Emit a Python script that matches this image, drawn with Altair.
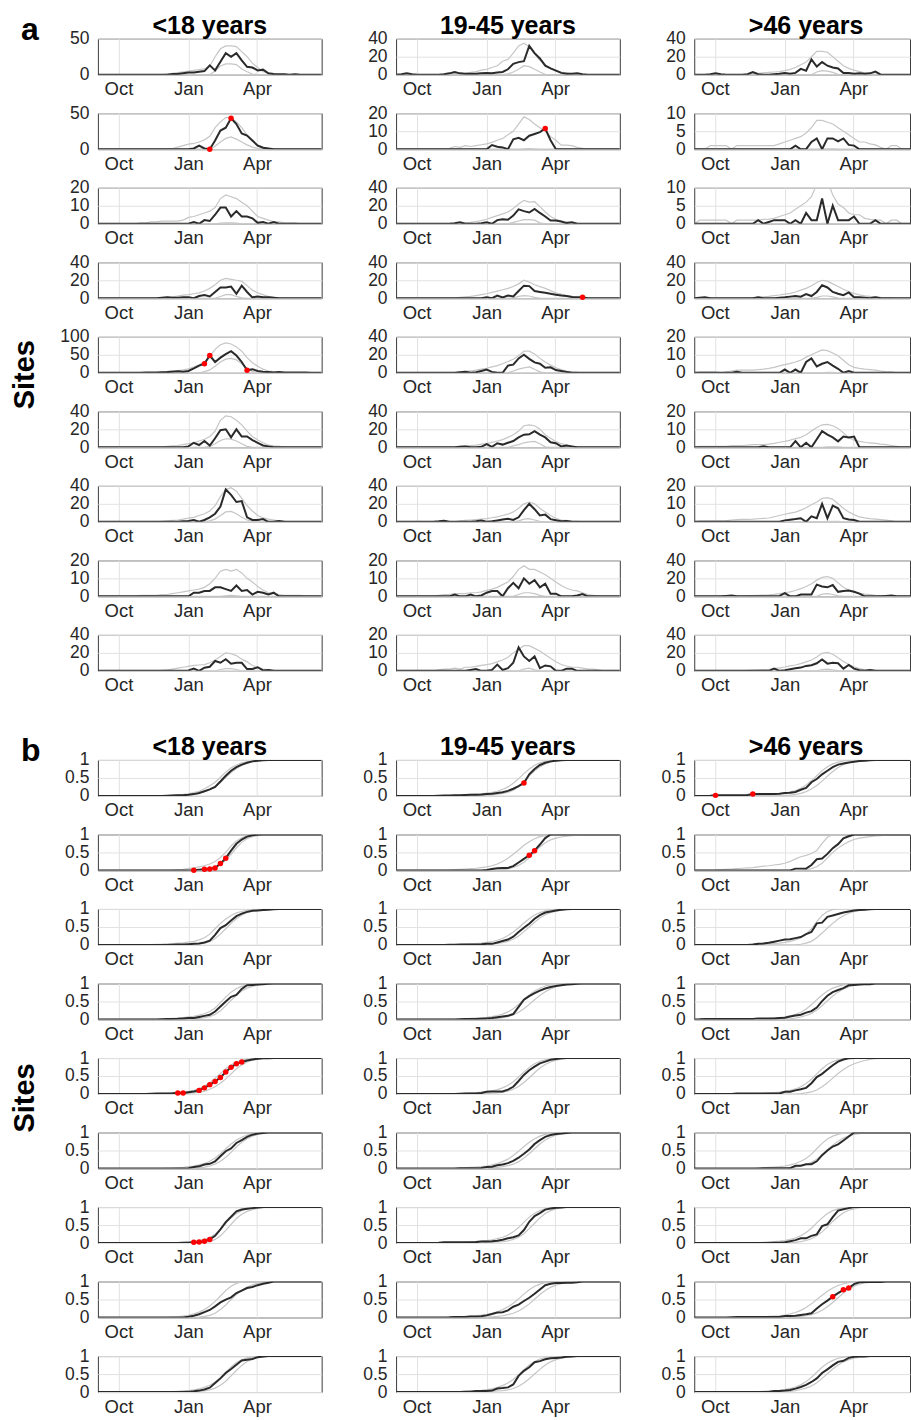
import altair as alt
import pandas as pd

# ---------------------------------------------------------------- time axis
N_WEEKS = 43            # weekly points, week 0 = 4 Sep
FIRST_DAY = -27         # day of week 0 relative to 1 Oct
X_TICKS = [0, 92, 182]  # 1 Oct, 1 Jan, 1 Apr (days after 1 Oct)
X_LABELS = "datum.value == 0 ? 'Oct' : (datum.value == 92 ? 'Jan' : 'Apr')"

COLUMN_TITLES = ["<18 years", "19-45 years", ">46 years"]

# ---------------------------------------------------------------- panel a: weekly counts
# each entry: (first week index, weekly values); outside the window the value is 0
A_LT18_OBS = [
    (14, [1, 1, 2, 3, 3, 4, 5, 13, 6, 18, 30, 25, 30, 20, 11, 10, 6, 7, 2, 1, 0.5, 0.5, 0, 0.5]),
    (17, [0, 1, 5, 1, 0, 12, 26, 30, 43, 35, 22, 19, 12, 5, 2, 1]),
    (17, [0, 1, 0, 2, 1.5, 5, 9, 9, 4, 7, 4, 4, 3, 0.5, 1, 0, 1]),
    (12, [0.5, 1, 0.5, 0.5, 1, 1, 0, 2.5, 3.5, 2, 7, 12, 12, 13, 5, 14, 7, 1, 2, 1, 1, 0.5]),
    (9, [1, 1, 1, 1.5, 2, 3, 4, 3, 5, 12, 20, 25, 48, 30, 42, 52, 60, 48, 30, 7, 10, 5, 3, 2, 1, 2, 1, 1, 0.5, 1, 0.5]),
    (17, [1, 5, 2.5, 7, 2, 10, 19, 20, 11, 20, 12, 12, 8, 5, 2, 1]),
    (16, [0.5, 1, 2, 0, 2, 5, 9, 17, 36, 30, 22, 23, 5, 2, 2, 3, 0, 0, 1]),
    (17, [0, 2, 2, 3, 3, 5, 5, 4, 3, 6, 3, 3.5, 1, 2.5, 2, 1, 2]),
    (17, [0.5, 2.5, 0, 3.5, 4.5, 11, 9, 13, 8, 9, 9, 2, 2, 4, 0.5, 1]),
]
A_LT18_HI = [
    (13, [1, 2, 3, 4, 5, 6, 7, 8, 12, 25, 36, 40, 40, 39, 32, 25, 16, 10, 4, 2, 1]),
    (14, [1, 3, 5, 7, 8, 10, 13, 18, 30, 38, 44, 44, 38, 30, 20, 11, 6, 3, 1]),
    (8, [0.5, 0.5, 1, 1, 1.5, 1.5, 1.5, 1.5, 2, 3.5, 4, 5, 6, 7, 9, 14, 16, 15, 14, 12, 10, 7, 4, 3, 2, 1, 1, 0.5, 0.5, 0.5]),
    (12, [0.5, 1, 1.5, 2.5, 3.5, 4, 5, 6, 8, 11, 15, 20, 22, 21, 20, 19, 14, 9, 6, 4, 2, 1, 0.5]),
    (12, [2, 3, 5, 6, 8, 11, 16, 22, 30, 45, 65, 78, 83, 80, 72, 60, 42, 28, 18, 10, 5, 3, 2, 1]),
    (13, [1, 1.5, 2, 3, 4, 5, 7, 9, 12, 18, 30, 35, 34, 30, 25, 18, 12, 8, 5, 2.5, 1.5, 1, 0.5]),
    (12, [0.5, 1, 1.5, 2, 3, 4, 5, 7, 9, 12, 18, 28, 36, 38, 34, 26, 18, 12, 7, 4.5, 3, 2, 1, 0.5]),
    (8, [0.5, 0.5, 0.5, 0.5, 1, 1, 1.5, 2, 2.5, 3, 3.5, 4, 5, 7, 10, 14, 15, 14, 15, 13, 10, 8, 5.5, 3.5, 2, 1.5, 1, 0.5, 0.5, 0.5, 0.5]),
    (12, [0.5, 1, 2, 3, 4, 5, 6, 6.5, 7, 9, 12, 16, 20, 19, 17, 13, 10, 6, 4, 2, 1, 0.5]),
]
A_LT18_LO = [
    (21, [0, 5, 12, 15, 15, 14, 8, 4, 1, 0]),
    (21, [0, 4, 10, 15, 17, 14, 10, 6, 3, 1, 0]),
    (22, [0, 0.3, 0.5, 0.5, 0.3, 0]),
    (22, [0, 2, 4, 4, 2, 0.5, 0]),
    (19, [0, 3, 8, 18, 30, 38, 40, 36, 25, 12, 4, 0]),
    (20, [0, 1, 4, 7.5, 9.5, 9, 7, 4, 1, 0]),
    (20, [0, 1, 3, 7, 11, 11.5, 9, 5, 2, 0.5, 0]),
    (23, [0, 0.3, 0.5, 0.3, 0]),
    (22, [0, 1.5, 2.5, 2.5, 1.5, 0]),
]
A_LT18_RED = [[], [21, 25], [], [], [20, 21, 28], [], [], [], []]
A_LT18_YMAX = [50, 50, 20, 40, 100, 40, 40, 20, 40]

A_1945_OBS = [
    (0, [0, 0.5, 1.5, 0.5, 0, 0, 0, 0, 0, 0.5, 1.5, 3, 1.5, 1, 1, 1, 1.5, 2, 1.5, 2.5, 3, 6, 12, 14, 15, 32, 24, 18, 10, 7, 4.5, 2, 1, 1, 1.5, 0.5]),
    (17, [0, 2.3, 1.4, 1, 0, 5.5, 6.3, 5, 7.5, 8.5, 9.5, 11.5, 5, 0]),
    (11, [0.5, 1.5, 0, 0, 0, 0.5, 1.5, 0, 4, 5, 4.5, 9, 16, 14, 12.5, 16.5, 12, 8, 3.5, 3.5, 2.5, 0.7, 1.5, 0]),
    (16, [0, 1, 0, 3, 1, 3, 2, 8, 14, 13.5, 8, 7, 6, 5, 4, 3, 2.5, 1.5, 1, 1, 0]),
    (12, [0.5, 1, 0, 0.5, 2, 3.5, 1, 0, 0, 8, 9, 16, 20, 15.5, 11.5, 10, 5.5, 6, 3, 2, 1, 0]),
    (12, [0.5, 1, 0, 0, 0.5, 3.5, 0.5, 4.5, 3, 5, 7, 11, 14, 14.5, 18, 14, 11, 5.5, 4.5, 1, 2, 1, 0]),
    (8, [0.5, 1.2, 0, 0, 0, 0, 0, 0.5, 1.5, 0, 0.5, 1.5, 2.5, 3.5, 2, 5, 13, 20, 14, 7, 8, 3, 1.8, 0.7, 1, 0]),
    (9, [0, 0, 1, 0, 0, 1, 0, 0.5, 2, 3, 3, 0, 4.5, 7.5, 4.5, 10, 7, 9, 5, 7, 1.5, 1.5, 0, 0, 0, 0.5, 1.3, 0]),
    (14, [0.5, 1, 0, 0, 0.5, 3.5, 0.5, 1.5, 4.5, 13, 8, 5.5, 8, 1.5, 3, 2.5, 0, 0, 1.2, 1.2, 0]),
]
A_1945_HI = [
    (9, [0.5, 1, 1, 1, 1.5, 2.5, 3.5, 5, 6, 8, 10, 15, 17, 24, 32, 35, 31, 23, 16, 11, 7, 5, 3, 2, 1, 0.5]),
    (10, [0.5, 1.5, 1, 2, 1.5, 2, 2.5, 3, 3.8, 5, 6, 8, 10, 14, 18, 16.5, 14, 12, 10, 7, 5, 2.3, 2.3, 2, 1, 0.5]),
    (13, [1, 1.5, 2.5, 3.5, 5, 7, 9, 11, 13, 17, 22, 26, 24, 24.5, 19, 13, 8, 5, 3, 2, 1, 0.5]),
    (12, [1, 1.5, 2, 3, 4, 5, 6.5, 8, 9.5, 11, 13, 16, 20, 18, 15, 13, 11, 8.5, 6, 4.5, 3, 2, 1, 0.5]),
    (12, [1, 1.5, 2, 3, 4, 5, 6.5, 8, 10, 12.5, 15, 19, 24, 24, 21, 16, 12, 8.5, 5.5, 3.5, 2, 1, 0.5]),
    (12, [1, 1.5, 2, 2.5, 3.5, 4, 5.5, 7, 8.5, 11, 14, 18, 24, 25, 24, 20, 14, 10, 6.5, 4, 2.5, 1, 0.5]),
    (12, [1, 1.5, 2, 2.5, 3, 3.5, 4.5, 5.5, 7, 8.5, 11, 15, 20, 22, 20, 15, 11, 7, 4, 2, 1.5, 0.7, 0.5]),
    (8, [0.5, 1, 1, 1.5, 1.5, 1.5, 2, 2, 2.5, 3.3, 4, 5, 6.5, 8, 11, 15, 17, 15, 15, 13.5, 12, 10, 8, 6, 4.5, 3.5, 3, 2, 1, 0.5]),
    (8, [0.5, 1, 1, 1.5, 1, 2, 2, 2.5, 3, 3.5, 4, 5, 6, 7.5, 10, 12, 14, 14, 12.5, 11, 9, 7, 5, 3.5, 2.7, 2, 2, 1.5, 1, 1, 0.5]),
]
A_1945_LO = [
    (20, [0, 1, 3, 6, 10, 9, 6, 3, 0.5, 0]),
    (23, [0, 0.2, 0.3, 0.2, 0]),
    (21, [0, 1.5, 3, 4.5, 4.5, 4, 1, 0]),
    (21, [0, 0.5, 2, 3, 2.5, 1, 0]),
    (21, [0, 2, 4, 5.5, 6.5, 4, 1, 0]),
    (21, [0, 1.5, 3, 5, 6, 6.5, 4, 0.5, 0]),
    (22, [0, 1, 3, 3.5, 2, 0.5, 0]),
    (22, [0, 1, 2, 2, 1.5, 0.5, 0]),
    (23, [0, 1, 1.5, 0.5, 0]),
]
A_1945_RED = [[], [28], [], [35], [], [], [], [], []]
A_1945_YMAX = [40, 20, 40, 40, 40, 40, 40, 20, 20]

A_GT46_OBS = [
    (2, [0, 0.5, 1.5, 0.5, 0, 0, 0, 0, 0.5, 3, 0.5, 0, 0, 0.5, 1, 2, 1, 2, 6.5, 4.5, 17, 9, 14, 10, 8, 7, 2, 2, 1, 1.5, 1, 1.5, 3.5, 0]),
    (17, [0, 0, 1, 0, 0, 2, 3, 0, 3, 3, 2.2, 3, 1.2, 1, 0]),
    (11, [0, 1, 0, 0.5, 1, 1, 1, 0, 1, 0, 3, 1, 1, 7, 0, 5, 1, 1, 1, 2, 0, 0, 0, 1, 0]),
    (0, [0, 0.5, 1, 0, 0, 0, 0, 0, 0, 0, 0, 0, 1, 0, 0, 0, 0.5, 1, 1.8, 2.5, 1.8, 4.7, 2.5, 7, 14.5, 12, 7, 5, 3.5, 6.5, 1, 1, 0.7, 0, 1, 0]),
    (8, [0.5, 0, 0, 0, 0, 0, 0, 0, 0, 1.8, 0, 1.8, 0, 6, 8, 3.5, 5, 6, 4, 2.2, 0, 1, 0]),
    (12, [0, 0.5, 0, 0, 0, 0, 0, 3.5, 0, 2.5, 0, 4.5, 9, 7, 5.5, 3.3, 6, 5.5, 6, 0]),
    (16, [0, 0.8, 1.2, 1.5, 2, 0, 3, 2, 10, 2, 9, 7.5, 2, 1.3, 1, 0]),
    (5, [0, 0.5, 1, 0, 0, 0, 0, 0, 0, 0, 0, 0.5, 3.5, 0, 0, 2, 2, 2, 13, 11, 10, 12.5, 5, 6, 6.5, 5, 3, 0, 0, 0, 0, 0.5, 1, 0]),
    (14, [0, 2.5, 0, 0.7, 1.8, 2.9, 3.6, 5.5, 6.2, 8.4, 12.7, 8, 9, 8.4, 2.5, 6.5, 2.5, 0.7, 0, 1, 0]),
]
A_GT46_HI = [
    (10, [0.5, 1, 1.5, 2, 2.5, 3, 3.5, 4.5, 6, 8, 11, 14, 20, 26, 26, 25, 20, 15, 10, 7, 5, 3.5, 2, 1, 0.5]),
    (2, [0, 1, 1, 1, 1, 0, 1, 1, 1, 1, 1, 1, 1, 1, 1.5, 2, 2.5, 3, 3.5, 4.5, 6, 8, 8, 7.5, 7, 6, 5, 4, 3, 2, 2, 1.5, 1.2, 0.5, 0, 1, 1, 0]),
    (0, [0, 1, 1, 1, 1, 1, 1, 0, 1, 1, 1, 1, 1, 1.2, 1.3, 1.5, 2, 2.5, 3, 4, 5, 6, 7.5, 11, 12, 12, 8, 5.5, 4.5, 3, 2.5, 2.5, 1.5, 1.2, 1, 1, 0, 1, 1, 0]),
    (11, [0.5, 1, 1.5, 2, 3, 3.6, 4.5, 5.5, 7, 9, 11, 14, 17.5, 20, 19, 16, 13, 10, 7.5, 5.5, 3.8, 2.7, 2, 1.5, 1, 0.7, 0.5]),
    (0, [0, 0.5, 0.5, 0.5, 0.5, 0, 0.5, 1, 1.5, 1.5, 1.5, 1.5, 1.8, 2, 2.4, 3, 3.8, 4.5, 5.2, 6, 7, 8.7, 10, 11.4, 12.7, 12.3, 11, 9.5, 7, 4.5, 3, 2.4, 2, 1.8, 1.5, 1, 0.5, 0.5]),
    (0, [0, 0.5, 0.5, 0.5, 0.5, 0.5, 0.5, 1, 1, 1, 1.2, 1.5, 1.5, 1.5, 1.8, 2.2, 2.8, 3.3, 4, 4.8, 5.5, 7, 9, 11, 12.5, 12.7, 12, 10.5, 8, 5.5, 4, 3.3, 2.8, 2.4, 2.2, 1.8, 1.5, 1, 0.5]),
    (0, [0, 0.5, 0.5, 0.5, 0.5, 0.5, 0.7, 1, 1.2, 1.3, 1.4, 1.5, 1.7, 1.9, 2.1, 2.8, 3.5, 4.2, 4.8, 5.4, 6.5, 7.8, 9.5, 11, 13, 13.4, 12.5, 10, 7.5, 5.5, 4, 2.7, 2.2, 1.8, 1.5, 1.2, 0.9, 0.5]),
    (10, [0.5, 0.8, 1, 1.3, 1.6, 2.2, 3, 4, 5, 6.5, 8.5, 11, 14, 18, 21, 22, 20, 15, 10, 7, 5, 3.5, 2.5, 1.8, 1.2, 0.8, 0.5]),
    (10, [0.5, 0.8, 1.1, 1.4, 1.8, 2.5, 3.3, 4.3, 5.5, 6.5, 8, 10, 12, 15.5, 19.5, 20.5, 18.5, 14.5, 10.5, 7, 4.5, 2.5, 1.5, 1, 0.5]),
]
A_GT46_LO = [
    (22, [0, 3, 4.5, 4, 2.5, 0.5, 0]),
    (23, [0, 0.1, 0.1, 0.1, 0]),
    (23, [0, 0.1, 0.1, 0]),
    (22, [0, 1, 2.5, 2.5, 1.5, 0.3, 0]),
    (24, [0, 0.3, 0.3, 0]),
    (24, [0, 0.3, 0.3, 0.2, 0]),
    (24, [0, 0.3, 0.3, 0.2, 0]),
    (23, [0, 2.5, 3, 2, 0.5, 0]),
    (23, [0, 1.5, 2, 1, 0.3, 0]),
]
A_GT46_RED = [[], [], [], [], [], [], [], [], []]
A_GT46_YMAX = [40, 10, 10, 40, 20, 20, 20, 40, 40]

# ---------------------------------------------------------------- panel b: cumulative fractions
# each entry: (first week index, values); before the window 0, after it 1
B_LT18_OBS = [
    (13, [0.005, 0.01, 0.015, 0.02, 0.03, 0.05, 0.08, 0.13, 0.18, 0.25, 0.4, 0.56, 0.7, 0.8, 0.87, 0.92, 0.96, 0.98, 0.99, 1]),
    (16, [0, 0, 0.005, 0.02, 0.03, 0.04, 0.07, 0.19, 0.34, 0.55, 0.74, 0.86, 0.94, 0.98, 0.995, 1]),
    (14, [0.005, 0.01, 0.01, 0.02, 0.03, 0.04, 0.07, 0.12, 0.28, 0.47, 0.55, 0.68, 0.8, 0.87, 0.92, 0.95, 0.96, 0.97, 0.98, 0.99, 1]),
    (12, [0.005, 0.01, 0.015, 0.02, 0.03, 0.04, 0.04, 0.07, 0.1, 0.13, 0.22, 0.36, 0.5, 0.63, 0.68, 0.85, 0.95, 0.96, 0.97, 0.98, 0.99, 1]),
    (10, [0.005, 0.01, 0.012, 0.015, 0.02, 0.03, 0.03, 0.05, 0.07, 0.1, 0.17, 0.26, 0.35, 0.46, 0.61, 0.74, 0.84, 0.89, 0.93, 0.96, 0.98, 0.99, 0.995, 1]),
    (16, [0, 0.01, 0.04, 0.06, 0.11, 0.13, 0.2, 0.34, 0.48, 0.56, 0.71, 0.79, 0.88, 0.94, 0.97, 0.99, 1]),
    (15, [0, 0.005, 0.01, 0.02, 0.03, 0.05, 0.1, 0.2, 0.38, 0.58, 0.73, 0.88, 0.93, 0.95, 0.97, 0.99, 1]),
    (16, [0, 0.02, 0.05, 0.09, 0.15, 0.21, 0.31, 0.42, 0.5, 0.56, 0.68, 0.75, 0.82, 0.85, 0.9, 0.94, 0.97, 1]),
    (16, [0, 0.005, 0.02, 0.04, 0.07, 0.12, 0.25, 0.38, 0.53, 0.64, 0.76, 0.88, 0.9, 0.92, 0.97, 0.99, 1]),
]
B_LT18_HI = [
    (13, [0.01, 0.02, 0.03, 0.04, 0.06, 0.09, 0.13, 0.2, 0.28, 0.38, 0.52, 0.66, 0.78, 0.86, 0.92, 0.95, 0.97, 0.99, 1]),
    (14, [0.01, 0.02, 0.03, 0.05, 0.07, 0.1, 0.13, 0.18, 0.25, 0.36, 0.5, 0.68, 0.82, 0.91, 0.96, 0.98, 0.99, 1]),
    (10, [0.01, 0.015, 0.02, 0.03, 0.04, 0.05, 0.06, 0.08, 0.1, 0.14, 0.2, 0.3, 0.45, 0.6, 0.72, 0.82, 0.89, 0.93, 0.96, 0.98, 0.99, 1]),
    (12, [0.01, 0.02, 0.03, 0.04, 0.05, 0.07, 0.09, 0.12, 0.16, 0.22, 0.32, 0.47, 0.62, 0.76, 0.86, 0.92, 0.96, 0.98, 0.99, 1]),
    (10, [0.005, 0.01, 0.015, 0.02, 0.03, 0.04, 0.05, 0.07, 0.1, 0.15, 0.22, 0.32, 0.44, 0.57, 0.7, 0.81, 0.89, 0.94, 0.97, 0.99, 1]),
    (13, [0.005, 0.01, 0.02, 0.03, 0.05, 0.07, 0.1, 0.14, 0.2, 0.29, 0.41, 0.55, 0.68, 0.79, 0.87, 0.93, 0.96, 0.98, 0.99, 1]),
    (14, [0.005, 0.01, 0.02, 0.03, 0.05, 0.07, 0.1, 0.15, 0.24, 0.38, 0.55, 0.7, 0.82, 0.9, 0.95, 0.97, 0.99, 1]),
    (14, [0.01, 0.02, 0.04, 0.06, 0.1, 0.15, 0.22, 0.32, 0.45, 0.6, 0.75, 0.87, 0.95, 0.99, 1]),
    (13, [0.005, 0.01, 0.02, 0.03, 0.04, 0.06, 0.09, 0.13, 0.19, 0.28, 0.4, 0.55, 0.7, 0.82, 0.9, 0.95, 0.98, 0.99, 1]),
]
B_LT18_LO = [
    (15, [0, 0.01, 0.02, 0.04, 0.07, 0.12, 0.18, 0.26, 0.38, 0.52, 0.65, 0.76, 0.85, 0.91, 0.95, 0.98, 0.99, 1]),
    (18, [0, 0.01, 0.02, 0.04, 0.08, 0.15, 0.28, 0.45, 0.63, 0.78, 0.88, 0.94, 0.97, 0.99, 1]),
    (16, [0, 0.01, 0.02, 0.03, 0.05, 0.09, 0.18, 0.3, 0.45, 0.6, 0.73, 0.83, 0.9, 0.94, 0.97, 0.98, 0.99, 1]),
    (16, [0, 0.01, 0.02, 0.03, 0.05, 0.08, 0.14, 0.24, 0.38, 0.53, 0.67, 0.79, 0.87, 0.92, 0.96, 0.98, 0.99, 1]),
    (15, [0, 0.01, 0.02, 0.03, 0.05, 0.08, 0.13, 0.2, 0.3, 0.42, 0.56, 0.7, 0.81, 0.89, 0.94, 0.97, 0.99, 1]),
    (17, [0, 0.01, 0.02, 0.04, 0.07, 0.12, 0.2, 0.31, 0.45, 0.6, 0.73, 0.83, 0.9, 0.95, 0.98, 0.99, 1]),
    (18, [0, 0.01, 0.02, 0.04, 0.1, 0.2, 0.35, 0.52, 0.68, 0.8, 0.88, 0.93, 0.96, 0.98, 1]),
    (18, [0, 0.01, 0.03, 0.06, 0.12, 0.22, 0.35, 0.5, 0.64, 0.76, 0.85, 0.91, 0.95, 0.98, 1]),
    (17, [0, 0.01, 0.02, 0.03, 0.06, 0.11, 0.19, 0.3, 0.45, 0.6, 0.74, 0.85, 0.92, 0.96, 0.98, 1]),
]
B_LT18_RED = [[], [18, 20, 21, 22, 23, 24], [], [], [15, 16, 19, 20, 21, 22, 23, 24, 25, 26, 27], [], [18, 19, 20, 21], [], []]

B_1945_OBS = [
    (8, [0.005, 0.008, 0.01, 0.015, 0.02, 0.025, 0.03, 0.035, 0.04, 0.05, 0.06, 0.08, 0.1, 0.14, 0.2, 0.27, 0.36, 0.6, 0.75, 0.86, 0.92, 0.96, 0.98, 0.99, 1]),
    (16, [0, 0.01, 0.04, 0.06, 0.07, 0.07, 0.12, 0.22, 0.32, 0.42, 0.55, 0.72, 0.9, 1]),
    (10, [0.003, 0.005, 0.015, 0.015, 0.015, 0.015, 0.02, 0.03, 0.03, 0.07, 0.11, 0.15, 0.23, 0.36, 0.48, 0.59, 0.73, 0.83, 0.9, 0.93, 0.96, 0.98, 0.99, 1]),
    (12, [0.005, 0.01, 0.01, 0.01, 0.02, 0.03, 0.04, 0.06, 0.08, 0.1, 0.15, 0.35, 0.55, 0.65, 0.73, 0.8, 0.86, 0.9, 0.93, 0.95, 0.97, 0.98, 0.99, 1]),
    (12, [0.005, 0.01, 0.01, 0.015, 0.03, 0.06, 0.07, 0.07, 0.07, 0.12, 0.2, 0.36, 0.53, 0.66, 0.76, 0.85, 0.9, 0.95, 0.97, 0.99, 1]),
    (12, [0.005, 0.01, 0.01, 0.01, 0.015, 0.045, 0.05, 0.09, 0.11, 0.15, 0.21, 0.3, 0.41, 0.53, 0.68, 0.79, 0.88, 0.93, 0.96, 0.97, 0.99, 1]),
    (8, [0.005, 0.02, 0.02, 0.02, 0.02, 0.02, 0.02, 0.025, 0.04, 0.04, 0.05, 0.065, 0.09, 0.13, 0.16, 0.21, 0.36, 0.59, 0.75, 0.83, 0.93, 0.96, 0.98, 0.99, 1]),
    (10, [0.005, 0.014, 0.015, 0.015, 0.03, 0.03, 0.035, 0.06, 0.1, 0.14, 0.15, 0.2, 0.3, 0.36, 0.46, 0.55, 0.66, 0.78, 0.9, 0.94, 0.96, 0.96, 0.965, 0.97, 0.98, 1]),
    (13, [0.005, 0.01, 0.03, 0.03, 0.03, 0.04, 0.1, 0.11, 0.13, 0.21, 0.45, 0.59, 0.69, 0.83, 0.86, 0.91, 0.94, 0.95, 0.96, 0.98, 0.99, 1]),
]
B_1945_HI = [
    (10, [0.01, 0.015, 0.02, 0.03, 0.04, 0.05, 0.06, 0.08, 0.1, 0.13, 0.18, 0.25, 0.35, 0.48, 0.62, 0.75, 0.85, 0.92, 0.96, 0.98, 0.99, 1]),
    (10, [0.01, 0.02, 0.03, 0.04, 0.05, 0.06, 0.08, 0.1, 0.13, 0.18, 0.25, 0.34, 0.45, 0.57, 0.7, 0.8, 0.88, 0.94, 0.97, 0.99, 1]),
    (12, [0.01, 0.02, 0.03, 0.04, 0.05, 0.07, 0.09, 0.13, 0.18, 0.26, 0.36, 0.48, 0.61, 0.73, 0.83, 0.9, 0.95, 0.98, 0.99, 1]),
    (12, [0.01, 0.02, 0.03, 0.04, 0.05, 0.06, 0.08, 0.11, 0.15, 0.21, 0.3, 0.42, 0.56, 0.68, 0.79, 0.87, 0.93, 0.96, 0.98, 0.99, 1]),
    (12, [0.01, 0.02, 0.03, 0.04, 0.05, 0.07, 0.09, 0.12, 0.17, 0.24, 0.34, 0.47, 0.61, 0.74, 0.84, 0.91, 0.95, 0.98, 0.99, 1]),
    (12, [0.01, 0.02, 0.03, 0.04, 0.05, 0.07, 0.1, 0.14, 0.19, 0.26, 0.36, 0.48, 0.61, 0.73, 0.83, 0.9, 0.95, 0.97, 0.99, 1]),
    (12, [0.01, 0.02, 0.03, 0.04, 0.05, 0.07, 0.09, 0.12, 0.16, 0.22, 0.31, 0.43, 0.58, 0.72, 0.83, 0.9, 0.95, 0.98, 0.99, 1]),
    (10, [0.01, 0.015, 0.02, 0.03, 0.04, 0.05, 0.07, 0.09, 0.12, 0.16, 0.22, 0.3, 0.4, 0.52, 0.65, 0.77, 0.87, 0.93, 0.97, 0.99, 1]),
    (12, [0.01, 0.02, 0.03, 0.04, 0.05, 0.07, 0.09, 0.13, 0.18, 0.25, 0.35, 0.48, 0.62, 0.75, 0.85, 0.92, 0.96, 0.98, 0.99, 1]),
]
B_1945_LO = [
    (14, [0.005, 0.01, 0.015, 0.02, 0.03, 0.05, 0.07, 0.1, 0.16, 0.26, 0.4, 0.56, 0.7, 0.81, 0.89, 0.94, 0.97, 0.99, 1]),
    (18, [0, 0.01, 0.02, 0.04, 0.08, 0.14, 0.23, 0.35, 0.5, 0.65, 0.77, 0.85, 0.9, 0.93, 0.95, 0.97, 0.98, 0.99, 1]),
    (16, [0, 0.01, 0.02, 0.04, 0.06, 0.1, 0.16, 0.25, 0.37, 0.5, 0.63, 0.75, 0.84, 0.9, 0.94, 0.97, 0.99, 1]),
    (16, [0, 0.01, 0.02, 0.03, 0.05, 0.08, 0.13, 0.2, 0.3, 0.42, 0.55, 0.67, 0.77, 0.85, 0.91, 0.95, 0.97, 0.99, 1]),
    (16, [0, 0.01, 0.02, 0.03, 0.05, 0.08, 0.13, 0.21, 0.32, 0.45, 0.59, 0.72, 0.82, 0.89, 0.94, 0.97, 0.99, 1]),
    (16, [0, 0.01, 0.02, 0.03, 0.05, 0.08, 0.12, 0.19, 0.29, 0.41, 0.55, 0.68, 0.79, 0.87, 0.93, 0.96, 0.98, 1]),
    (16, [0, 0.01, 0.02, 0.03, 0.04, 0.06, 0.1, 0.16, 0.26, 0.4, 0.55, 0.7, 0.82, 0.9, 0.95, 0.98, 1]),
    (16, [0, 0.01, 0.02, 0.03, 0.05, 0.08, 0.12, 0.18, 0.27, 0.38, 0.51, 0.64, 0.75, 0.84, 0.9, 0.94, 0.97, 0.99, 1]),
    (16, [0, 0.01, 0.02, 0.03, 0.04, 0.06, 0.1, 0.16, 0.25, 0.37, 0.5, 0.63, 0.75, 0.84, 0.9, 0.94, 0.97, 0.99, 1]),
]
B_1945_RED = [[24], [25, 26], [], [], [], [], [], [], []]

B_GT46_OBS = [
    (3, [0.005, 0.015, 0.02, 0.02, 0.02, 0.02, 0.02, 0.025, 0.05, 0.05, 0.05, 0.05, 0.055, 0.06, 0.08, 0.09, 0.11, 0.17, 0.22, 0.38, 0.47, 0.6, 0.7, 0.8, 0.87, 0.9, 0.93, 0.95, 0.97, 0.98, 0.99, 1]),
    (18, [0, 0.05, 0.05, 0.05, 0.15, 0.31, 0.33, 0.46, 0.62, 0.73, 0.89, 0.95, 1]),
    (10, [0, 0.01, 0.03, 0.04, 0.06, 0.09, 0.12, 0.15, 0.16, 0.19, 0.22, 0.3, 0.36, 0.6, 0.62, 0.78, 0.82, 0.86, 0.9, 0.93, 0.96, 0.97, 0.98, 0.99, 1]),
    (1, [0.005, 0.015, 0.015, 0.015, 0.015, 0.015, 0.015, 0.015, 0.015, 0.015, 0.015, 0.03, 0.03, 0.03, 0.03, 0.04, 0.05, 0.08, 0.11, 0.13, 0.19, 0.23, 0.33, 0.51, 0.66, 0.76, 0.82, 0.87, 0.95, 0.96, 0.97, 0.98, 0.98, 1]),
    (7, [0, 0.013, 0.013, 0.013, 0.013, 0.013, 0.013, 0.013, 0.013, 0.013, 0.06, 0.06, 0.1, 0.13, 0.17, 0.3, 0.47, 0.56, 0.68, 0.8, 0.9, 0.96, 0.99, 1]),
    (12, [0, 0.01, 0.01, 0.01, 0.01, 0.01, 0.01, 0.075, 0.075, 0.12, 0.12, 0.2, 0.37, 0.5, 0.61, 0.67, 0.78, 0.89, 1]),
    (14, [0, 0.005, 0.01, 0.02, 0.05, 0.08, 0.13, 0.13, 0.2, 0.24, 0.47, 0.52, 0.72, 0.9, 0.94, 0.97, 1]),
    (6, [0, 0.01, 0.012, 0.012, 0.012, 0.012, 0.012, 0.012, 0.012, 0.012, 0.015, 0.04, 0.04, 0.05, 0.07, 0.09, 0.12, 0.25, 0.37, 0.47, 0.58, 0.68, 0.77, 0.82, 0.93, 0.98, 0.99, 0.99, 0.99, 0.99, 1]),
    (14, [0, 0.03, 0.03, 0.04, 0.06, 0.095, 0.14, 0.2, 0.28, 0.38, 0.53, 0.63, 0.74, 0.84, 0.87, 0.95, 0.98, 0.99, 0.99, 1]),
]
B_GT46_HI = [
    (12, [0.01, 0.02, 0.03, 0.04, 0.06, 0.08, 0.11, 0.15, 0.21, 0.3, 0.42, 0.56, 0.7, 0.81, 0.89, 0.94, 0.97, 0.99, 1]),
    (3, [0.005, 0.01, 0.02, 0.03, 0.04, 0.05, 0.06, 0.07, 0.08, 0.1, 0.12, 0.13, 0.15, 0.17, 0.2, 0.25, 0.32, 0.38, 0.42, 0.47, 0.55, 0.75, 0.92, 1]),
    (12, [0.01, 0.02, 0.03, 0.04, 0.05, 0.07, 0.1, 0.14, 0.2, 0.3, 0.45, 0.65, 0.82, 0.93, 0.98, 1]),
    (12, [0.01, 0.02, 0.03, 0.04, 0.05, 0.07, 0.1, 0.14, 0.2, 0.29, 0.41, 0.55, 0.68, 0.79, 0.87, 0.92, 0.96, 0.98, 0.99, 1]),
    (12, [0.01, 0.02, 0.03, 0.04, 0.05, 0.07, 0.1, 0.14, 0.2, 0.29, 0.41, 0.56, 0.7, 0.82, 0.9, 0.95, 0.98, 0.99, 1]),
    (12, [0.01, 0.02, 0.03, 0.04, 0.05, 0.07, 0.1, 0.14, 0.2, 0.28, 0.4, 0.55, 0.7, 0.82, 0.9, 0.95, 0.98, 0.99, 1]),
    (12, [0.01, 0.02, 0.03, 0.04, 0.05, 0.07, 0.1, 0.14, 0.2, 0.29, 0.41, 0.56, 0.7, 0.82, 0.9, 0.95, 0.98, 0.99, 1]),
    (12, [0.01, 0.02, 0.03, 0.04, 0.05, 0.07, 0.1, 0.14, 0.2, 0.28, 0.38, 0.5, 0.62, 0.73, 0.82, 0.89, 0.94, 0.97, 0.99, 1]),
    (12, [0.01, 0.02, 0.03, 0.04, 0.05, 0.07, 0.1, 0.14, 0.2, 0.29, 0.41, 0.55, 0.69, 0.8, 0.88, 0.94, 0.97, 0.99, 1]),
]
B_GT46_LO = [
    (16, [0, 0.01, 0.02, 0.04, 0.07, 0.12, 0.19, 0.29, 0.41, 0.55, 0.68, 0.79, 0.87, 0.92, 0.96, 0.98, 0.99, 1]),
    (20, [0, 0.02, 0.05, 0.1, 0.2, 0.35, 0.5, 0.62, 0.72, 0.8, 0.86, 0.9, 0.92, 0.94, 0.96, 0.97, 0.98, 0.99, 1]),
    (19, [0, 0.02, 0.05, 0.1, 0.2, 0.33, 0.47, 0.6, 0.72, 0.81, 0.88, 0.93, 0.96, 0.98, 1]),
    (16, [0, 0.01, 0.02, 0.04, 0.07, 0.11, 0.17, 0.26, 0.38, 0.52, 0.65, 0.76, 0.85, 0.91, 0.95, 0.97, 0.99, 1]),
    (19, [0, 0.01, 0.03, 0.06, 0.11, 0.2, 0.31, 0.44, 0.57, 0.68, 0.77, 0.84, 0.89, 0.93, 0.96, 0.98, 0.99, 1]),
    (16, [0, 0.01, 0.02, 0.04, 0.07, 0.11, 0.17, 0.26, 0.38, 0.52, 0.65, 0.76, 0.85, 0.91, 0.95, 0.97, 0.99, 1]),
    (17, [0, 0.01, 0.02, 0.04, 0.07, 0.12, 0.2, 0.31, 0.45, 0.6, 0.73, 0.84, 0.91, 0.95, 0.98, 1]),
    (17, [0, 0.01, 0.02, 0.03, 0.05, 0.08, 0.13, 0.2, 0.3, 0.42, 0.55, 0.68, 0.79, 0.87, 0.93, 0.96, 0.98, 1]),
    (16, [0, 0.01, 0.02, 0.04, 0.07, 0.11, 0.17, 0.26, 0.38, 0.51, 0.64, 0.75, 0.84, 0.9, 0.94, 0.97, 0.99, 1]),
]
B_GT46_RED = [[4, 11], [], [], [], [], [], [], [26, 28, 29], []]

SECTION_A = [
    (A_LT18_OBS, A_LT18_HI, A_LT18_LO, A_LT18_RED, A_LT18_YMAX),
    (A_1945_OBS, A_1945_HI, A_1945_LO, A_1945_RED, A_1945_YMAX),
    (A_GT46_OBS, A_GT46_HI, A_GT46_LO, A_GT46_RED, A_GT46_YMAX),
]
SECTION_B = [
    (B_LT18_OBS, B_LT18_HI, B_LT18_LO, B_LT18_RED, [1] * 9),
    (B_1945_OBS, B_1945_HI, B_1945_LO, B_1945_RED, [1] * 9),
    (B_GT46_OBS, B_GT46_HI, B_GT46_LO, B_GT46_RED, [1] * 9),
]

# ---------------------------------------------------------------- style / geometry
FONT = "Liberation Sans"
BLACK = "#2a2a2a"
GRAY = "#c6c6c6"
RED = "#ff0000"
W, H = 224, 36
W_LAST = 216          # right column is cut by the page edge
COL_GAP = 74.5
ROW_GAP = 38.6
SPACER_H = 11.8


def expand(series, after):
    start, vals = series
    out = []
    for i in range(N_WEEKS):
        if i < start:
            out.append(0.0)
        elif i < start + len(vals):
            out.append(float(vals[i - start]))
        else:
            out.append(float(after))
    return out


def y_ticks(ymax):
    if ymax == 50:
        return [0, 50]
    return [0, ymax / 2, ymax]


def label_layer(text, x, y, size, align="left", angle=0):
    return alt.Chart(pd.DataFrame({"t": [text]})).mark_text(
        font=FONT, fontSize=size, fontWeight="bold", color="black", align=align,
        baseline="alphabetic", angle=angle
    ).encode(text="t:N", x=alt.value(x), y=alt.value(y))


def make_panel(section, col, row):
    src = SECTION_A if section == "a" else SECTION_B
    obs, hi, lo, red, ymaxes = src[col]
    after = 0 if section == "a" else 1
    ymax = ymaxes[row]
    df = pd.DataFrame({
        "day": [FIRST_DAY + 7 * i for i in range(N_WEEKS)],
        "obs": expand(obs[row], after),
        "hi": expand(hi[row], after),
        "lo": expand(lo[row], after),
        "red": [i in red[row] for i in range(N_WEEKS)],
    })
    width = W_LAST if col == 2 else W
    xmax = FIRST_DAY + 294 * width / W
    xenc = alt.X("day:Q", scale=alt.Scale(domain=[FIRST_DAY, xmax], nice=False, zero=False),
                 axis=alt.Axis(values=X_TICKS, labelExpr=X_LABELS, title=None))
    yscale = alt.Scale(domain=[0, ymax], nice=False, zero=True)
    yaxis = alt.Axis(values=y_ticks(ymax), labelExpr="'' + datum.value", title=None)

    def yenc(f):
        return alt.Y(f"{f}:Q", scale=yscale, axis=yaxis)

    base = alt.Chart(df)
    layers = [
        base.mark_line(color=GRAY, strokeWidth=1.2, clip=True).encode(x=xenc, y=yenc("hi")),
        base.mark_line(color=GRAY, strokeWidth=1.2, clip=True).encode(x=xenc, y=yenc("lo")),
        base.mark_line(color=BLACK, strokeWidth=2, clip=True).encode(x=xenc, y=yenc("obs")),
    ]
    if red[row]:
        layers.append(base.transform_filter("datum.red").mark_circle(color=RED, size=30, opacity=1)
                      .encode(x=xenc, y=yenc("obs")))
    if row == 0:
        layers.append(label_layer(COLUMN_TITLES[col], W / 2, -5, 25, align="center"))
        if col == 0:
            layers.append(label_layer(section, -77, 1, 32))
    if col == 0 and row == 4:
        layers.append(label_layer("Sites", -64, 38 if section == "a" else 40, 29,
                                  align="center", angle=270))
    return alt.layer(*layers).properties(width=width, height=H)


def spacer(col):
    return alt.Chart(pd.DataFrame({"day": [0]})).mark_point(opacity=0).encode(
        x=alt.X("day:Q", axis=None), y=alt.Y("day:Q", axis=None)
    ).properties(width=W_LAST if col == 2 else W, height=SPACER_H,
                 view=alt.ViewBackground(stroke="transparent"))


cells = []
for r in range(9):
    for c in range(3):
        cells.append(make_panel("a", c, r))
for c in range(3):
    cells.append(spacer(c))
for r in range(9):
    for c in range(3):
        cells.append(make_panel("b", c, r))

chart = alt.concat(
    *cells, columns=3, spacing={"row": ROW_GAP, "column": COL_GAP}, bounds="flush", align="each"
).properties(
    padding={"left": 10, "top": 12, "right": 0, "bottom": 0}
).configure_view(
    stroke="#3c3c3c", strokeWidth=1
).configure_axis(
    labelFont=FONT, labelColor="#262626", grid=True, gridColor="#e2e2e2",
    gridWidth=1, domain=False, ticks=False, tickSize=0, labelOverlap=False
).configure_axisX(labelPadding=5, labelFontSize=18.5).configure_axisY(labelPadding=9, labelFontSize=17.5)

chart.save("out.html", embed_options={"renderer": "svg", "actions": False})
